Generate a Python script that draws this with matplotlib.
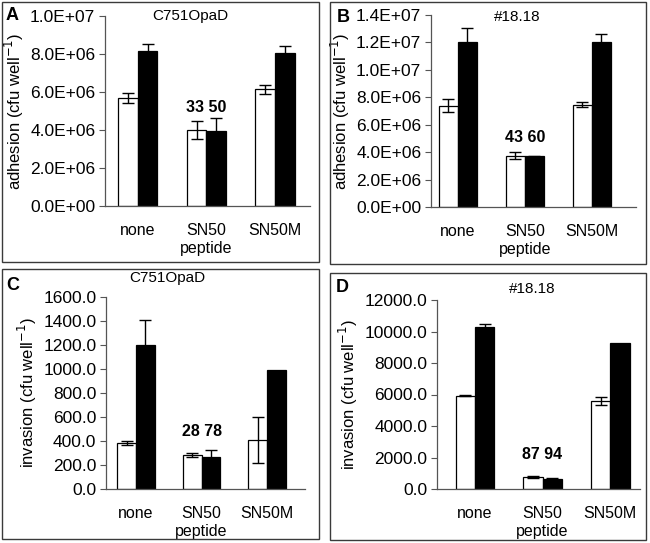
import matplotlib
matplotlib.use("Agg")
import matplotlib.pyplot as plt
from matplotlib.patches import Rectangle
import numpy as np

plt.rcParams['font.family'] = ['Liberation Sans', 'DejaVu Sans']

categories = ["none", "SN50\npeptide", "SN50M"]

# Panel A: adhesion, C751OpaD
a_white = [5.70e6, 4.00e6, 6.14e6]
a_white_err = [0.26e6, 0.46e6, 0.24e6]
a_black = [8.17e6, 3.95e6, 8.07e6]
a_black_err = [0.34e6, 0.66e6, 0.36e6]
a_note = "33 50"

# Panel B: adhesion, #18.18
b_white = [7.38e6, 3.74e6, 7.47e6]
b_white_err = [0.48e6, 0.24e6, 0.18e6]
b_black = [12.06e6, 3.69e6, 12.06e6]
b_black_err = [0.97e6, 0.05e6, 0.55e6]
b_note = "43 60"

# Panel C: invasion, C751OpaD
c_white = [385, 283, 408]
c_white_err = [18, 20, 195]
c_black = [1203, 267, 989]
c_black_err = [208, 58, 0]
c_note = "28 78"

# Panel D: invasion, #18.18
d_white = [5926, 760, 5587]
d_white_err = [40, 50, 240]
d_black = [10265, 640, 9249]
d_black_err = [210, 40, 0]
d_note = "87 94"

W, H = 650, 543
fig = plt.figure(figsize=(W / 100, H / 100), dpi=100)


def ax_at(left, top, right, bottom):
    return fig.add_axes([left / W, 1 - bottom / H, (right - left) / W, (bottom - top) / H])


def box(left, top, right, bottom):
    fig.add_artist(Rectangle((left / W, 1 - bottom / H), (right - left) / W, (bottom - top) / H,
                             transform=fig.transFigure, fill=False, edgecolor='#3a3a3a', lw=1.0))


def panel(ax, white, werr, black, berr, ymax, ystep, fmt, ylabel, xlim, note, note_y,
          title, title_xy):
    x = np.arange(len(categories))
    bw = 0.285
    ax.bar(x - bw / 2, white, bw, color='white', edgecolor='black', lw=0.9, zorder=2)
    ax.bar(x + bw / 2, black, bw, color='black', edgecolor='black', lw=0.9, zorder=2)
    ax.errorbar(x - bw / 2, white, yerr=werr, fmt='none', ecolor='black', elinewidth=1.0,
                capsize=4, capthick=1.0, zorder=3)
    berr_arr = np.array(berr, dtype=float)
    mask = berr_arr > 0
    ax.errorbar((x + bw / 2)[mask], np.array(black)[mask], yerr=berr_arr[mask], fmt='none',
                ecolor='black', elinewidth=1.0, capsize=4, capthick=1.0, zorder=3)
    ax.set_xlim(*xlim)
    ax.set_ylim(0, ymax)
    ticks = np.arange(0, ymax + ystep / 2, ystep)
    ax.set_yticks(ticks)
    ax.set_yticklabels([fmt(t) for t in ticks], fontsize=12.5)
    ax.set_xticks(x)
    ax.set_xticklabels(categories, fontsize=11.5, linespacing=1.3)
    ax.tick_params(axis='x', length=0, pad=12)
    ax.tick_params(axis='y', length=4, width=0.8, color='#555555', pad=3)
    for s in ['top', 'right']:
        ax.spines[s].set_visible(False)
    for s in ['left', 'bottom']:
        ax.spines[s].set_color('#555555')
        ax.spines[s].set_linewidth(0.9)
    ax.set_ylabel(ylabel, fontsize=12, labelpad=3)
    ax.text(1, note_y, note, ha='center', va='center', fontsize=11.5, fontweight='bold')
    ax.text(title_xy[0], title_xy[1], title, transform=ax.transAxes, ha='center', va='center',
            fontsize=11)
    ax.patch.set_alpha(0)


sci = lambda v: f"{v:.1E}"
dec = lambda v: f"{v:.1f}"
adh = "adhesion (cfu well$^{-1}$)"
inv = "invasion (cfu well$^{-1}$)"

# panel borders
box(2, 2, 319, 262)
box(330, 2, 646, 264)
box(2, 269, 319, 539)
box(330, 273, 646, 540)

axA = ax_at(105, 16, 310, 206)
panel(axA, a_white, a_white_err, a_black, a_black_err, 1.0e7, 2.0e6, sci, adh,
      (-0.48, 2.51), a_note, 5.2e6, "C751OpaD", (0.415, 1.0))
axB = ax_at(431, 15, 636, 207)
panel(axB, b_white, b_white_err, b_black, b_black_err, 1.4e7, 2.0e6, sci, adh,
      (-0.40, 2.66), b_note, 5.1e6, "#18.18", (0.42, 0.99))
axC = ax_at(106, 297, 305, 489)
panel(axC, c_white, c_white_err, c_black, c_black_err, 1600, 200, dec, inv,
      (-0.46, 2.58), c_note, 475, "C751OpaD", (0.31, 1.10))
axD = ax_at(437, 300, 640, 489)
panel(axD, d_white, d_white_err, d_black, d_black_err, 12000, 2000, dec, inv,
      (-0.56, 2.44), d_note, 2160, "#18.18", (0.47, 1.06))

for lab, (px, py) in zip("ABCD", [(12, 16), (343, 17), (13, 286), (342, 287)]):
    fig.text(px / W, 1 - py / H, lab, ha='center', va='center', fontsize=13,
             fontweight='bold')

fig.savefig("out.png", dpi=100)
